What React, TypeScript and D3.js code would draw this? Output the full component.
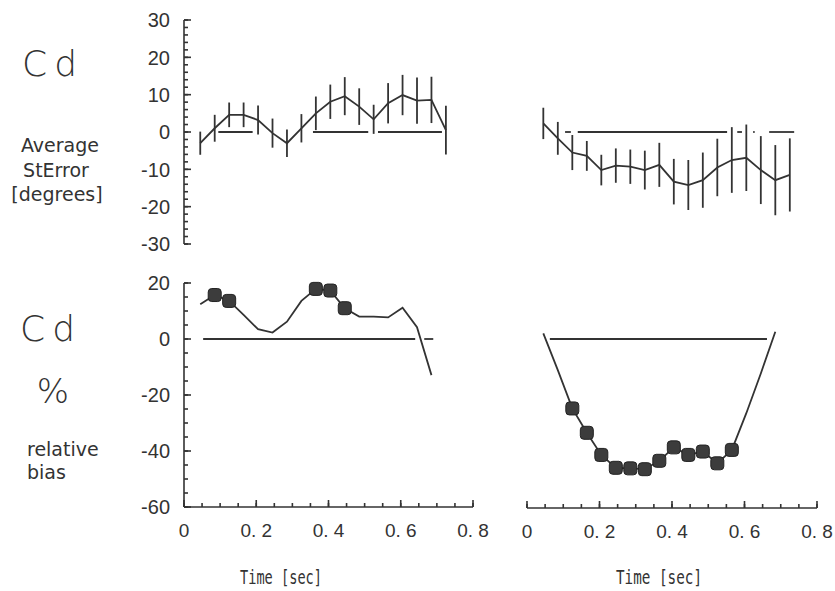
import React from "react";
import * as d3 from "d3";

const W = 835;
const H = 591;

// time points (sec)
const timesTop = [0.045, 0.085, 0.125, 0.165, 0.205, 0.245, 0.285, 0.325, 0.365, 0.405, 0.445, 0.485, 0.525, 0.565, 0.605, 0.645, 0.685, 0.725];
const timesBot = timesTop.slice(0, 17);

// average StError [degrees]
const errLeftMean = [-3.0, 1.0, 4.6, 4.6, 3.2, -0.3, -3.0, 1.0, 5.0, 8.1, 9.6, 6.8, 3.4, 7.7, 9.9, 8.4, 8.6, 0.5];
const errLeftSe = [3.1, 3.6, 3.3, 3.3, 3.9, 3.9, 3.7, 3.8, 4.5, 4.6, 5.1, 4.9, 3.9, 5.4, 5.4, 6.2, 6.2, 6.5];
const errRightMean = [2.3, -1.7, -5.5, -6.4, -10.2, -9.0, -9.3, -10.2, -8.8, -13.3, -14.2, -12.9, -9.5, -7.5, -6.9, -10.2, -12.9, -11.5];
const errRightSe = [4.2, 4.4, 4.7, 4.0, 4.1, 4.6, 4.6, 5.2, 5.9, 6.1, 6.7, 7.4, 7.7, 8.8, 8.9, 9.1, 9.4, 9.8];

// relative bias %
const biasLeft = [12.4, 15.7, 13.6, 8.6, 3.5, 2.3, 6.2, 13.6, 17.9, 17.3, 11.0, 8.0, 8.0, 7.7, 11.2, 4.2, -12.9];
const biasLeftMarked = [1, 2, 8, 9, 10];
const biasRight = [2.0, -11.1, -24.8, -33.5, -41.4, -46.0, -46.2, -46.5, -43.5, -38.7, -41.4, -40.2, -44.4, -39.6, -26.5, -12.3, 2.6];
const biasRightMarked = [2, 3, 4, 5, 6, 7, 8, 9, 10, 11, 12, 13];

// zero-line segments [from, to] in sec
const zeroTL = [[0.095, 0.19], [0.357, 0.51], [0.537, 0.714]];
const zeroTR = [[0.105, 0.121], [0.14, 0.552], [0.58, 0.593], [0.624, 0.628], [0.668, 0.737]];
const zeroBL = [[0.053, 0.64], [0.665, 0.69]];
const zeroBR = [[0.063, 0.662]];

const xTicks = [0, 0.2, 0.4, 0.6, 0.8];
const xTickLabels = ["0", "0. 2", "0. 4", "0. 6", "0. 8"];
const yTopTicks = [30, 20, 10, 0, -10, -20, -30];
const yBotTicks = [20, 0, -20, -40, -60];

const ink = "#333";
const mono = "'DejaVu Sans Mono', monospace";
const sans = "'DejaVu Sans', sans-serif";
const tickFont = "'Liberation Sans', Arial, sans-serif";

const xL = d3.scaleLinear().domain([0, 0.8]).range([184, 473]);
const xR = d3.scaleLinear().domain([0, 0.8]).range([527, 817]);
const yTop = d3.scaleLinear().domain([-30, 30]).range([244, 20]);
const yBot = d3.scaleLinear().domain([-60, 20]).range([507, 283]);

function ErrPanel({ x, mean, se, zero }: any) {
  const line = d3
    .line<number>()
    .x((_, i) => x(timesTop[i]))
    .y((d) => yTop(d));
  return (
    <g stroke={ink} fill="none" strokeWidth={1.8}>
      {zero.map((s: number[], i: number) => (
        <line key={"z" + i} x1={x(s[0])} x2={x(s[1])} y1={yTop(0)} y2={yTop(0)} />
      ))}
      {mean.map((m: number, i: number) => (
        <line key={"e" + i} x1={x(timesTop[i])} x2={x(timesTop[i])} y1={yTop(m - se[i])} y2={yTop(m + se[i])} />
      ))}
      <path d={line(mean) || ""} />
    </g>
  );
}

function BiasPanel({ x, vals, marked, zero }: any) {
  const line = d3
    .line<number>()
    .x((_, i) => x(timesBot[i]))
    .y((d) => yBot(d));
  return (
    <g>
      <g stroke={ink} fill="none" strokeWidth={1.8}>
        {zero.map((s: number[], i: number) => (
          <line key={"z" + i} x1={x(s[0])} x2={x(s[1])} y1={yBot(0)} y2={yBot(0)} />
        ))}
        <path d={line(vals) || ""} />
      </g>
      {marked.map((i: number) => (
        <rect key={i} x={x(timesBot[i]) - 6.5} y={yBot(vals[i]) - 6.5} width={13} height={13} rx={3.5}
          fill="#3c3c3c" stroke="#222" strokeWidth={1} />
      ))}
    </g>
  );
}

function YAxis({ y, major, minorStep, x0 }: any) {
  const [lo, hi] = y.domain();
  const minor = d3.range(lo, hi + 0.001, minorStep);
  return (
    <g stroke={ink} strokeWidth={1.6}>
      <line x1={x0} x2={x0} y1={y(hi)} y2={y(lo)} />
      {minor.map((v: number) => (
        <line key={"m" + v} x1={x0} x2={x0 + 4} y1={y(v)} y2={y(v)} />
      ))}
      {major.map((v: number) => (
        <line key={"M" + v} x1={x0} x2={x0 + 7} y1={y(v)} y2={y(v)} />
      ))}
      {major.map((v: number) => (
        <text key={"t" + v} x={x0 - 14} y={y(v)} dy="0.36em" textAnchor="end" stroke="none" fill={ink}
          fontFamily={tickFont} fontSize={20}>{v < 0 ? "-" + Math.abs(v) : v}</text>
      ))}
    </g>
  );
}

function XAxis({ x, y0 }: any) {
  const minor = d3.range(0, 0.8001, 0.05);
  return (
    <g stroke={ink} strokeWidth={1.6}>
      <line x1={x(0)} x2={x(0.8)} y1={y0} y2={y0} />
      {minor.map((v: number) => (
        <line key={"m" + v} x1={x(v)} x2={x(v)} y1={y0} y2={y0 - 4} />
      ))}
      {xTicks.map((v) => (
        <line key={"M" + v} x1={x(v)} x2={x(v)} y1={y0} y2={y0 - 7} />
      ))}
      {xTicks.map((v, i) => (
        <text key={"t" + v} x={x(v)} y={y0 + 30} textAnchor="middle" stroke="none" fill={ink}
          fontFamily={tickFont} fontSize={19}>{xTickLabels[i]}</text>
      ))}
    </g>
  );
}

export default function App() {
  return (
    <svg width={W} height={H} style={{ position: "absolute", left: 0, top: 0, background: "#fff" }}>
      <rect width={W} height={H} fill="#fff" />
      <YAxis y={yTop} major={yTopTicks} minorStep={2} x0={184} />
      <YAxis y={yBot} major={yBotTicks} minorStep={5} x0={184} />
      <XAxis x={xL} y0={507} />
      <XAxis x={xR} y0={508} />

      <ErrPanel x={xL} mean={errLeftMean} se={errLeftSe} zero={zeroTL} />
      <ErrPanel x={xR} mean={errRightMean} se={errRightSe} zero={zeroTR} />
      <BiasPanel x={xL} vals={biasLeft} marked={biasLeftMarked} zero={zeroBL} />
      <BiasPanel x={xR} vals={biasRight} marked={biasRightMarked} zero={zeroBR} />

      <g fill={ink} fontFamily={sans}>
        <text x={53} y={76} textAnchor="middle" fontSize={36} fontWeight={200} letterSpacing={7}>Cd</text>
        <text x={60} y={152} textAnchor="middle" fontSize={19}>Average</text>
        <text x={56} y={177} textAnchor="middle" fontSize={19}>StError</text>
        <text x={57} y={201} textAnchor="middle" fontSize={19}>[degrees]</text>

        <text x={51} y={341} textAnchor="middle" fontSize={36} fontWeight={200} letterSpacing={7}>Cd</text>
        <text x={53} y={403} textAnchor="middle" fontSize={34} fontWeight={200}>%</text>
        <text x={27} y={456} fontSize={19}>relative</text>
        <text x={27} y={479} fontSize={19}>bias</text>

        <text x={281} y={584} textAnchor="middle" fontFamily={mono} fontSize={20}
          textLength={82} lengthAdjust="spacingAndGlyphs">Time [sec]</text>
        <text x={659} y={584} textAnchor="middle" fontFamily={mono} fontSize={20}
          textLength={86} lengthAdjust="spacingAndGlyphs">Time [sec]</text>
      </g>
    </svg>
  );
}
